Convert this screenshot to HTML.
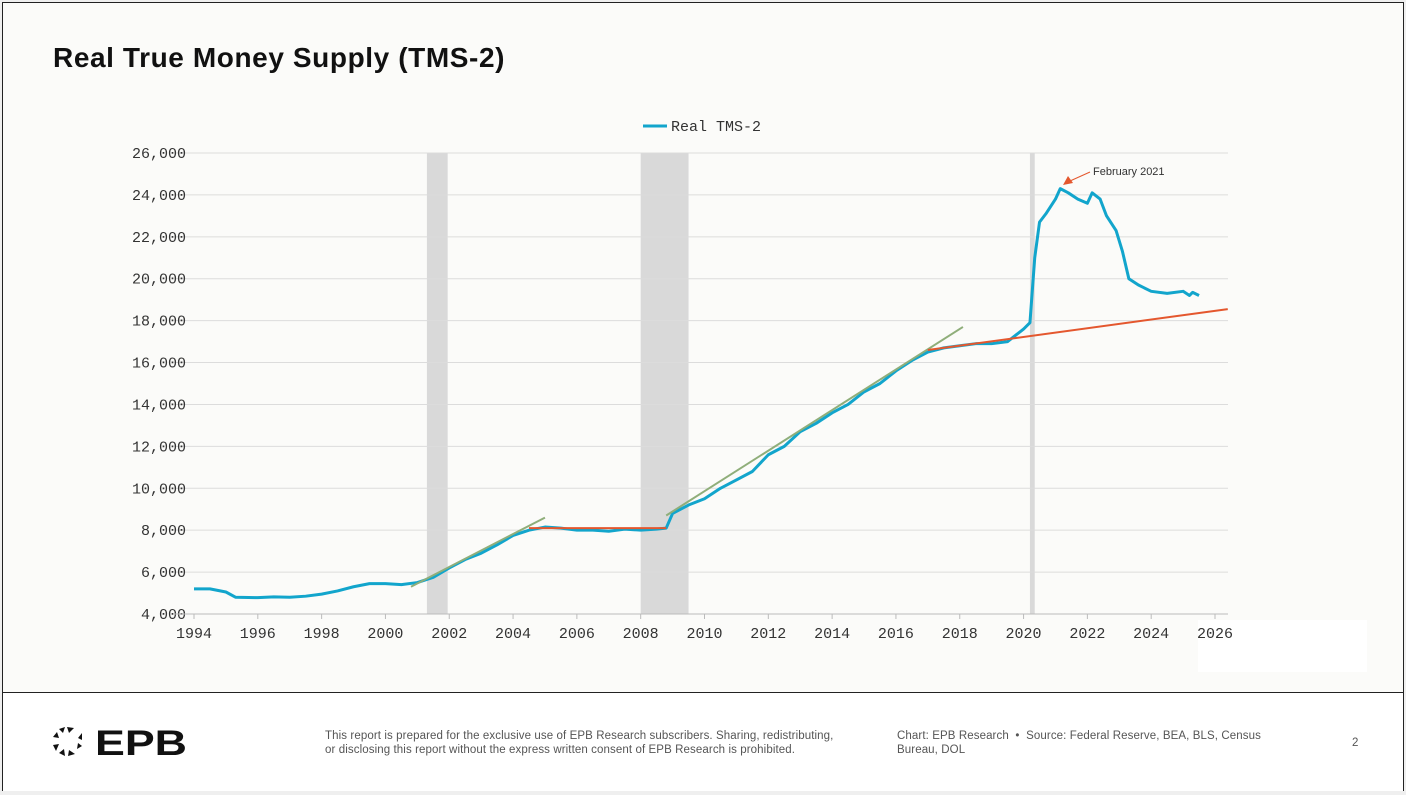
<!DOCTYPE html>
<html><head><meta charset="utf-8"><style>
body{margin:0;width:1406px;height:795px;background:#efefef;position:relative;overflow:hidden;font-family:"Liberation Sans",sans-serif}
#frame{position:absolute;left:2px;top:2px;width:1400px;height:787px;border:1px solid #222;background:#fbfbf9}
#footer{position:absolute;left:0;top:689px;width:1400px;height:98px;border-top:1px solid #222;background:#fff}
h1{position:absolute;left:50px;top:39px;margin:0;font-size:28px;font-weight:bold;color:#111;letter-spacing:0.6px}
.ft{position:absolute;font-size:11.5px;color:#555;line-height:14px;letter-spacing:0.1px}
</style></head><body>
<div id="frame">
<h1>Real True Money Supply (TMS-2)</h1>
<div id="footer">
 <svg style="position:absolute;left:48px;top:32px" width="160" height="40">
  <g fill="#111">
   <polygon points="16,2 23,3 18,8"/><polygon points="8,4 14,2 12,8"/><polygon points="2,12 6,7 8,13"/>
   <polygon points="2,20 8,19 5,26"/><polygon points="8,28 13,24 14,31"/><polygon points="17,31 18,25 24,29"/>
   <polygon points="26,24 27,18 31,21"/><polygon points="27,13 31,8 31,15"/>
  </g>
  <text x="44" y="30" font-family="Liberation Sans" font-weight="bold" font-size="35" fill="#111" textLength="92" lengthAdjust="spacingAndGlyphs">EPB</text>
 </svg>
 <div class="ft" style="left:322px;top:36px">This report is prepared for the exclusive use of EPB Research subscribers. Sharing, redistributing,<br>or disclosing this report without the express written consent of EPB Research is prohibited.</div>
 <div class="ft" style="left:894px;top:36px">Chart: EPB Research &nbsp;•&nbsp; Source: Federal Reserve, BEA, BLS, Census<br>Bureau, DOL</div>
 <div class="ft" style="left:1349px;top:43px">2</div>
</div>
</div>
<svg id="chart" style="position:absolute;left:0;top:0" width="1406" height="690"></svg>
<script>
const years=[1994,1994.5,1995,1995.3,1996,1996.5,1997,1997.5,1998,1998.5,1999,1999.5,2000,2000.5,2001,2001.5,2002,2002.5,2003,2003.5,2004,2004.5,2005,2005.5,2006,2006.5,2007,2007.5,2008,2008.5,2008.8,2009,2009.5,2010,2010.5,2011,2011.5,2012,2012.5,2013,2013.5,2014,2014.5,2015,2015.5,2016,2016.5,2017,2017.5,2018,2018.5,2019,2019.5,2020,2020.2,2020.35,2020.5,2020.7,2021,2021.15,2021.4,2021.7,2022,2022.15,2022.4,2022.6,2022.9,2023.1,2023.3,2023.6,2024,2024.5,2025,2025.2,2025.3,2025.5];
const tms=[5200,5200,5050,4800,4780,4820,4800,4850,4950,5100,5300,5450,5450,5400,5500,5750,6200,6600,6900,7300,7750,8000,8150,8100,8000,8000,7950,8050,8000,8050,8100,8800,9200,9500,10000,10400,10800,11600,12000,12700,13100,13600,14000,14600,15000,15600,16100,16500,16700,16800,16900,16900,17000,17600,17900,21000,22700,23100,23800,24300,24100,23800,23600,24100,23800,23000,22300,21300,20000,19700,19400,19300,19400,19200,19350,19200];
const trendX=[[2000.8,2005],[2004.5,2008.8],[2008.8,2018.1],[2017,2026.4]];
const trendY=[[5300,8600],[8100,8100],[8700,17700],[16600,18550]];
const trendColor=['#8fae7a','#e4572e','#8fae7a','#e4572e'];
const recessions=[[2001.3,2001.95],[2008.0,2009.5],[2020.2,2020.35]];
const yTicks=[4000,6000,8000,10000,12000,14000,16000,18000,20000,22000,24000,26000];
const xTicks=[1994,1996,1998,2000,2002,2004,2006,2008,2010,2012,2014,2016,2018,2020,2022,2024,2026];
const X=y=>194+(y-1994)*(1021/32);
const Y=v=>614-(v-4000)*(461/22000);
const svg=document.getElementById('chart');
const NS='http://www.w3.org/2000/svg';
function mk(t,a){const e=document.createElementNS(NS,t);for(const k in a)e.setAttribute(k,a[k]);svg.appendChild(e);return e;}
mk('rect',{x:1198,y:620,width:169,height:52,fill:'#fff'});
recessions.forEach(r=>{const e=mk('rect',{x:X(r[0]),y:153,width:X(r[1])-X(r[0]),height:461,fill:'#d9d9d9'});

});
yTicks.forEach(v=>{if(v>4000){const g=mk('line',{x1:174,x2:1228,y1:Y(v),y2:Y(v),stroke:'#dcdcdc','stroke-width':1});

}
const t=mk('text',{x:186,y:Y(v)+5,'text-anchor':'end','font-family':'Liberation Mono, monospace','font-size':15,fill:'#333'});t.textContent=v.toLocaleString('en-US');

});
mk('line',{x1:174,x2:1228,y1:614,y2:614,stroke:'#bbb'});
xTicks.forEach(y=>{mk('line',{x1:X(y),x2:X(y),y1:614,y2:619,stroke:'#bbb'});
const t=mk('text',{x:X(y),y:638,'text-anchor':'middle','font-family':'Liberation Mono, monospace','font-size':15,fill:'#333'});t.textContent=y;

});
const p=mk('polyline',{points:years.map((y,i)=>X(y)+','+Y(tms[i])).join(' '),fill:'none',stroke:'#12a5cc','stroke-width':3,'stroke-linejoin':'round'});


trendX.forEach((tx,i)=>{const l=mk('line',{x1:X(tx[0]),x2:X(tx[1]),y1:Y(trendY[i][0]),y2:Y(trendY[i][1]),stroke:trendColor[i],'stroke-width':2});

});
mk('line',{x1:1090,y1:172,x2:1070,y2:181,stroke:'#e4572e','stroke-width':1});
mk('polygon',{points:'1063,185 1068,176 1073,183',fill:'#e4572e'});
const a=mk('text',{x:1093,y:175,'font-family':'Liberation Sans, sans-serif','font-size':11,fill:'#333'});a.textContent='February 2021';


const lg=mk('line',{x1:643,x2:667,y1:126,y2:126,stroke:'#12a5cc','stroke-width':3});


const lt=mk('text',{x:671,y:131,'font-family':'Liberation Mono, monospace','font-size':15,fill:'#333'});lt.textContent='Real TMS-2';


</script>
</body></html>
